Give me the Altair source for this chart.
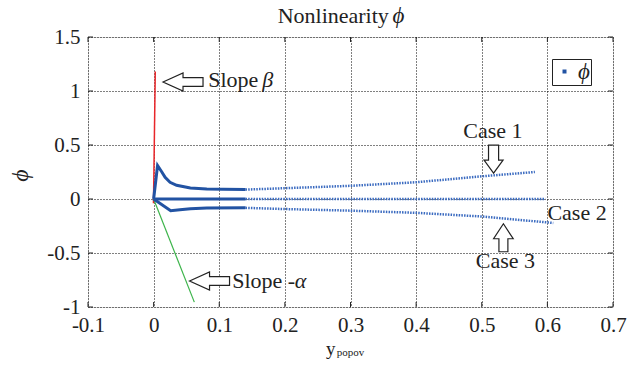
import altair as alt
import pandas as pd

FONT = "Times New Roman, Liberation Serif, serif"
BLUE = "#2253a3"
BLUE_DOT = "#3b6bc0"
RED = "#e8262a"
GREEN = "#3cb44a"

# ---- data ----
c1_x = [0.0, 0.006, 0.0125, 0.0175, 0.025, 0.035, 0.056, 0.081, 0.106, 0.14]
c1_y = [0.0, 0.31, 0.25, 0.20, 0.155, 0.127, 0.102, 0.093, 0.09, 0.087]
c2_x = [0.0, 0.14]
c2_y = [0.0, 0.0]
c3_x = [0.0, 0.026, 0.04, 0.056, 0.081, 0.14]
c3_y = [0.0, -0.108, -0.10, -0.09, -0.084, -0.082]

d1_x = [0.14, 0.2, 0.3, 0.4, 0.5, 0.581]
d1_y = [0.087, 0.10, 0.122, 0.155, 0.21, 0.25]
d2_x = [0.14, 0.597]
d2_y = [0.0, 0.0]
d3_x = [0.14, 0.2, 0.3, 0.4, 0.5, 0.609]
d3_y = [-0.082, -0.093, -0.108, -0.128, -0.162, -0.222]

beta_x = [-0.0002, 0.0025]
beta_y = [-0.04, 1.18]
alpha_x = [0.0, 0.062]
alpha_y = [0.0, -0.955]

x_ticks = [-0.1, 0.0, 0.1, 0.2, 0.3, 0.4, 0.5, 0.6, 0.7]
y_ticks = [-1.0, -0.5, 0.0, 0.5, 1.0, 1.5]

# annotation texts
ann_text = ["Slope", "β", "Slope -", "α", "Case 1", "Case 2", "Case 3"]
ann_x = [0.0832, 0.1655, 0.1197, 0.2150, 0.517, 0.600, 0.536]
ann_y = [1.10, 1.10, -0.76, -0.76, 0.627, -0.132, -0.578]
ann_align = ["left", "left", "left", "left", "center", "left", "center"]
ann_style = ["normal", "italic", "normal", "italic", "normal", "normal", "normal"]

# title pieces
title_text = ["Nonlinearity", "ϕ"]
title_x = [0.189, 0.364]
title_y = [1.627, 1.627]

# arrows: centres
arrL_x = [0.0448, 0.0852]
arrL_y = [1.083, -0.759]
arrD_x = [0.518]
arrD_y = [0.369]
arrU_x = [0.533]
arrU_y = [-0.359]

# ---- tables ----
def seg(xs, ys, name):
    return pd.DataFrame({"x": xs, "y": ys, "case": name, "lbl": "ϕ"})

solid = pd.concat([seg(c1_x, c1_y, "c1"), seg(c2_x, c2_y, "c2"), seg(c3_x, c3_y, "c3")])
dotted = pd.concat([seg(d1_x, d1_y, "c1"), seg(d2_x, d2_y, "c2"), seg(d3_x, d3_y, "c3")])
beta = pd.DataFrame({"x": beta_x, "y": beta_y})
alpha = pd.DataFrame({"x": alpha_x, "y": alpha_y})
ann = pd.DataFrame({"t": ann_text, "x": ann_x, "y": ann_y, "al": ann_align, "st": ann_style})

tick_rows = []
ty = 5 / 108.0
tx = 5 / 656.0
for v in x_ticks:
    tick_rows.append({"x": v, "x2": v, "y": -1.0, "y2": -1.0 + ty})
    tick_rows.append({"x": v, "x2": v, "y": 1.5, "y2": 1.5 - ty})
for v in y_ticks:
    tick_rows.append({"x": -0.1, "x2": -0.1 + tx, "y": v, "y2": v})
    tick_rows.append({"x": 0.7, "x2": 0.7 - tx, "y": v, "y2": v})
ticks = pd.DataFrame(tick_rows)

xs = alt.Scale(domain=[-0.1, 0.7], nice=False, zero=False)
ys = alt.Scale(domain=[-1.0, 1.5], nice=False, zero=False)

xaxis = alt.Axis(values=x_ticks, labelExpr="'' + datum.value", title=None, grid=True,
                 gridDash=[1, 2], gridColor="#000", gridWidth=1, domain=False, ticks=False,
                 labelFont=FONT, labelFontSize=21, labelColor="#222", labelPadding=7,
                 labelFlush=False)
yaxis = alt.Axis(values=y_ticks, labelExpr="'' + datum.value", title="ϕ", grid=True,
                 gridDash=[1, 2], gridColor="#000", gridWidth=1, domain=False, ticks=False,
                 labelFont=FONT, labelFontSize=21, labelColor="#222", labelPadding=8,
                 titleFont=FONT, titleFontSize=24, titleFontStyle="italic", titleFontWeight="normal",
                 titleColor="#222", titleX=-68, titleY=138, titleAngle=270, titleAlign="center",
                 titleBaseline="middle")

base_grid = alt.Chart(beta).mark_line(color=RED, strokeWidth=1.5).encode(
    x=alt.X("x:Q", scale=xs, axis=xaxis),
    y=alt.Y("y:Q", scale=ys, axis=yaxis),
)
green_line = alt.Chart(alpha).mark_line(color=GREEN, strokeWidth=1.2).encode(
    x=alt.X("x:Q", scale=xs), y=alt.Y("y:Q", scale=ys))

solid_lines = alt.Chart(solid).mark_line(strokeWidth=3).encode(
    x=alt.X("x:Q", scale=xs), y=alt.Y("y:Q", scale=ys), detail="case:N",
    color=alt.Color("lbl:N", scale=alt.Scale(domain=["ϕ"], range=[BLUE]),
                    legend=alt.Legend(title=None, orient="none", legendX=464, legendY=22,
                                      symbolType="square", symbolSize=16, symbolFillColor=BLUE,
                                      symbolStrokeColor=BLUE, symbolStrokeWidth=0,
                                      labelFont=FONT, labelFontSize=23, labelFontStyle="italic",
                                      labelColor="#222", strokeColor="#222", fillColor="white",
                                      padding=1, labelOffset=2, symbolOffset=0,
                                      offset=0)),
)
dotted_lines = alt.Chart(dotted).mark_line(strokeWidth=2.5, strokeDash=[1.5, 1.2], color=BLUE_DOT).encode(
    x=alt.X("x:Q", scale=xs), y=alt.Y("y:Q", scale=ys), detail="case:N")

tick_rules = alt.Chart(ticks).mark_rule(color="#222", strokeWidth=1).encode(
    x=alt.X("x:Q", scale=xs), x2="x2:Q", y=alt.Y("y:Q", scale=ys), y2="y2:Q")

LEFT = "M -1 0 L 0 -0.45 L 0 -0.22 L 1 -0.22 L 1 0.22 L 0 0.22 L 0 0.45 Z"
DOWN = "M 0 1 L -0.68 0.07 L -0.36 0.07 L -0.36 -1 L 0.36 -1 L 0.36 0.07 L 0.68 0.07 Z"
UP = "M 0 -1 L -0.7 0.07 L -0.32 0.07 L -0.32 1 L 0.32 1 L 0.32 0.07 L 0.7 0.07 Z"

def arrows(xv, yv, path, size):
    return alt.Chart(pd.DataFrame({"x": xv, "y": yv})).mark_point(
        shape=path, size=size, filled=True, fill="white", stroke="#222", strokeWidth=1.2,
        opacity=1).encode(x=alt.X("x:Q", scale=xs), y=alt.Y("y:Q", scale=ys))

arr_l = arrows(arrL_x, arrL_y, LEFT, 1600)
arr_d = arrows(arrD_x, arrD_y, DOWN, 784)
arr_u = arrows(arrU_x, arrU_y, UP, 784)

texts = []
for al in ["left", "center"]:
    for st in ["normal", "italic"]:
        sub = ann[(ann.al == al) & (ann.st == st)]
        if len(sub) == 0:
            continue
        texts.append(alt.Chart(sub).mark_text(font=FONT, fontSize=22, align=al, baseline="middle",
                                              fontStyle=st, color="#222").encode(
            x=alt.X("x:Q", scale=xs), y=alt.Y("y:Q", scale=ys), text="t:N"))

title_df = pd.DataFrame({"t": title_text, "x": title_x, "y": title_y})
title_a = alt.Chart(title_df.iloc[[0]]).mark_text(font=FONT, fontSize=22, align="left",
                                                  baseline="alphabetic", color="#222").encode(
    x=alt.X("x:Q", scale=xs), y=alt.Y("y:Q", scale=ys), text="t:N")
title_b = alt.Chart(title_df.iloc[[1]]).mark_text(font=FONT, fontSize=23, align="left",
                                                  baseline="alphabetic", fontStyle="italic",
                                                  color="#222").encode(
    x=alt.X("x:Q", scale=xs), y=alt.Y("y:Q", scale=ys), text="t:N")

xlab = pd.DataFrame({"t": ["y", "popov"], "x": [0.2628, 0.2790], "y": [-1.44, -1.45]})
xlab_y = alt.Chart(xlab.iloc[[0]]).mark_text(font=FONT, fontSize=19, align="left",
                                             baseline="alphabetic", color="#222").encode(
    x=alt.X("x:Q", scale=xs), y=alt.Y("y:Q", scale=ys), text="t:N")
xlab_p = alt.Chart(xlab.iloc[[1]]).mark_text(font=FONT, fontSize=11, align="left",
                                             baseline="alphabetic", color="#222").encode(
    x=alt.X("x:Q", scale=xs), y=alt.Y("y:Q", scale=ys), text="t:N")

chart = alt.layer(base_grid, green_line, dotted_lines, solid_lines, tick_rules,
                  arr_l, arr_d, arr_u, *texts, title_a, title_b, xlab_y, xlab_p).properties(
    width=525, height=270,
    autosize=alt.AutoSizeParams(type="none"),
    padding={"left": 88, "top": 37, "right": 27, "bottom": 62},
).configure_view(stroke="#222", strokeWidth=1.5).configure(background="white")

chart.save("out.html", embed_options={"renderer": "svg", "actions": False})
